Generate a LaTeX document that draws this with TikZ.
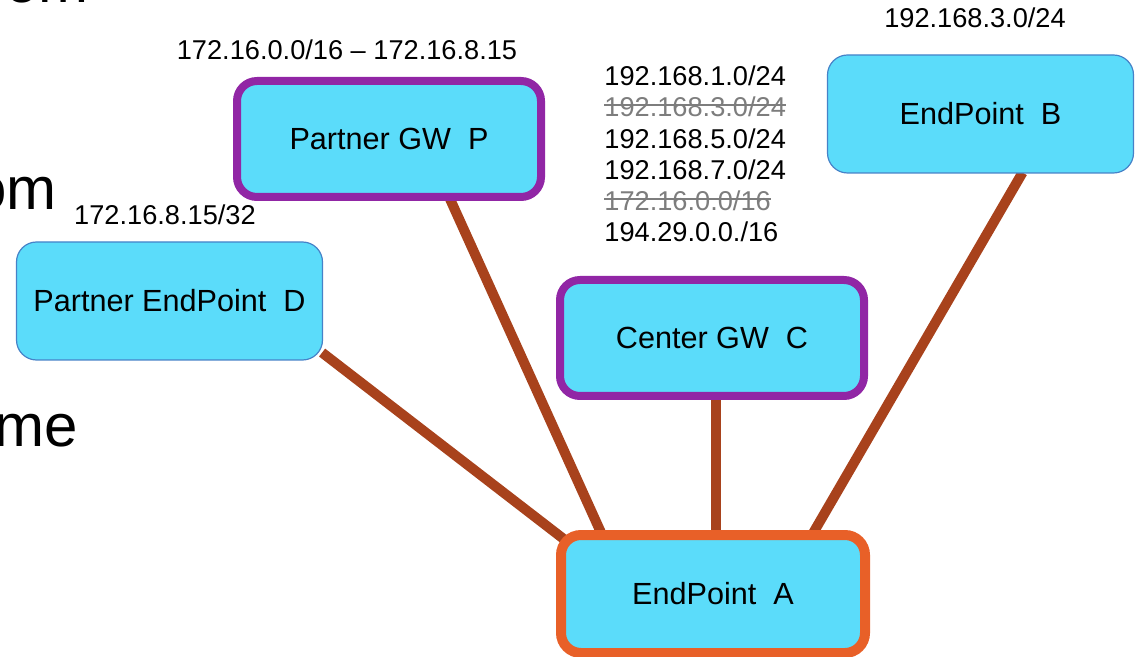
\documentclass[tikz,border=0pt]{standalone}
\usepackage{fontspec}
\setmainfont{Liberation Sans}
\usetikzlibrary{backgrounds}

\definecolor{boxfill}{RGB}{91,220,250}
\definecolor{gwpurple}{RGB}{145,38,165}
\definecolor{homeorange}{RGB}{232,96,40}
\definecolor{siteblue}{RGB}{70,130,200}
\definecolor{linkbrown}{RGB}{168,66,28}
\definecolor{struck}{RGB}{125,125,125}

\tikzset{
  site/.style={draw=siteblue, line width=0.6pt, fill=boxfill, rounded corners=10pt,
    minimum width=153pt, minimum height=59pt, font=\fontsize{15.3}{18}\selectfont},
  gw/.style={site, draw=gwpurple, line width=4pt, minimum width=152pt, minimum height=58pt},
  home/.style={site, draw=homeorange, line width=5pt, minimum width=152pt, minimum height=59pt},
  link/.style={draw=linkbrown, line width=5pt},
  net/.style={font=\fontsize{13.6}{15.6}\selectfont, inner sep=0pt},
  gone/.style={net, text=struck},
  big/.style={font=\fontsize{30}{36}\selectfont, inner sep=0pt}
}
% strike a route out
\def\strike#1{\draw[struck, line width=1pt] ([yshift=1]#1.west) -- ([yshift=1]#1.east);}

\begin{document}
\begin{tikzpicture}[x=0.5pt, y=-0.5pt]
   \useasboundingbox (0,0) rectangle (1135,657);
   % slide text running off the left edge
   \node[big, anchor=base east] (line1) at (89,3) {om};
   \node[big, anchor=base east] (line2) at (57,210) {om};
   \node[big, anchor=base east] (line3) at (78,446) {me};

   \node[gw]   (P) at (389,139) {Partner GW\ \ P};
   \node[site] (D) at (169.5,301) {Partner EndPoint\ \ D};
   \node[site] (B) at (980.5,114) {EndPoint\ \ B};
   \node[gw]   (C) at (712,338) {Center GW\ \ C};
   \node[home] (A) at (713,594) {EndPoint\ \ A};

   \node[net] (pnet) at (347,50) {172.16.0.0/16 -- 172.16.8.15};
   \node[net] (dnet) at (165,215) {172.16.8.15/32};
   \node[net] (bnet) at (975,18) {192.168.3.0/24};

   % routes known at C
   \node[net, anchor=west]  (r1) at (604,76) {192.168.1.0/24};
   \node[gone, anchor=west] (r2) at (604,107.2) {192.168.3.0/24};
   \node[net, anchor=west]  (r3) at (604,138.4) {192.168.5.0/24};
   \node[net, anchor=west]  (r4) at (604,169.6) {192.168.7.0/24};
   \node[gone, anchor=west] (r5) at (604,200.8) {172.16.0.0/16};
   \node[net, anchor=west]  (r6) at (604,232) {194.29.0.0./16};
   \strike{r2}
   \strike{r5}

   \begin{scope}[on background layer]
     \draw[link] ([shift={(-1,-8)}]D.south east) -- ([shift={(9,10)}]A.north west);
     \draw[link] ([shift={(61,-2)}]P.south) -- ([shift={(-110,7)}]A.north);
     \draw[link] ([shift={(4,-7)}]C.south) -- ([shift={(3,3)}]A.north);
     \draw[link] ([shift={(42,-1)}]B.south) -- ([shift={(99,5)}]A.north);
   \end{scope}
\end{tikzpicture}
\end{document}
